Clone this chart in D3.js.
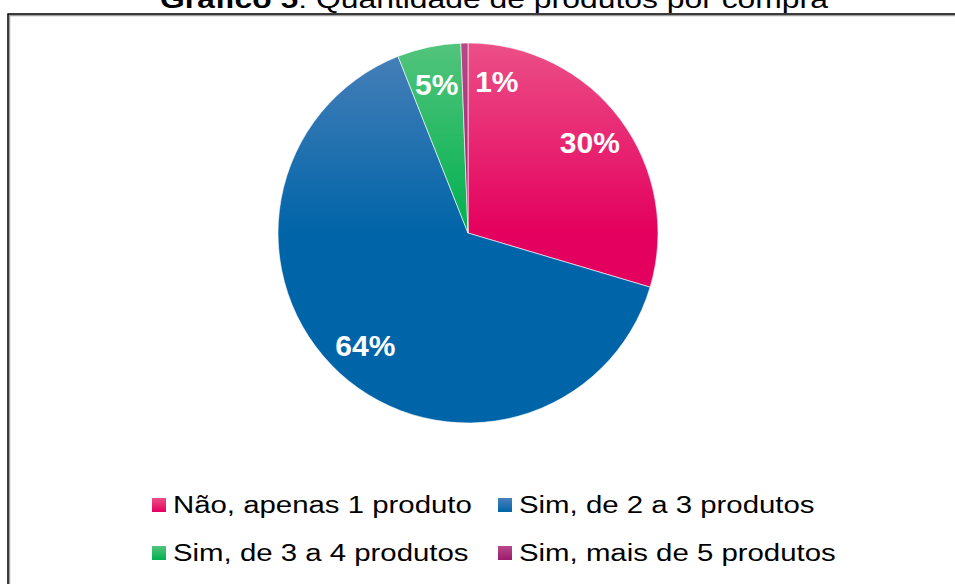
<!DOCTYPE html>
<html>
<head>
<meta charset="utf-8">
<script src="https://cdn.jsdelivr.net/npm/d3@7"></script>
<style>
  body { margin: 0; background: #fff; }
  svg { display: block; font-family: "Liberation Sans", Arial, sans-serif; }
</style>
</head>
<body>
<div class="main"></div>
<script>
// Données du graphique
const categories = ['Não, apenas 1 produto', 'Sim, de 2 a 3 produtos', 'Sim, de 3 a 4 produtos', 'Sim, mais de 5 produtos'];
const valeurs = [29.6, 64.4, 5.4, 0.6];
const etiquettes = ['30%', '64%', '5%', '1%'];
const couleurs = ['#e4005e', '#0065a8', '#00b04f', '#9e1a6c'];
const couleursClaires = ['#ec4f87', '#4a80b9', '#52c47c', '#b8488a'];

const width = 955;
const height = 584;
const cx = 468, cy = 233, rayon = 190;
const etirement = 1.25; // texte étiré horizontalement dans l'original

const data = categories.map((c, i) => ({ categorie: c, valeur: valeurs[i], etiquette: etiquettes[i], i }));

const svg = d3.select('.main')
  .append('svg')
  .attr('width', width)
  .attr('height', height);

// Dégradés (haut plus clair), en coordonnées locales du groupe
const defs = svg.append('defs');
data.forEach(d => {
  const g = defs.append('linearGradient')
    .attr('id', 'grad' + d.i)
    .attr('gradientUnits', 'userSpaceOnUse')
    .attr('x1', 0).attr('y1', -rayon)
    .attr('x2', 0).attr('y2', rayon);
  g.append('stop').attr('offset', '0%').attr('stop-color', couleursClaires[d.i]);
  g.append('stop').attr('offset', '50%').attr('stop-color', couleurs[d.i]);
  g.append('stop').attr('offset', '100%').attr('stop-color', couleurs[d.i]);

  const lg = defs.append('linearGradient')
    .attr('id', 'leg' + d.i)
    .attr('x1', 0).attr('y1', 0).attr('x2', 0).attr('y2', 1);
  lg.append('stop').attr('offset', '0%').attr('stop-color', couleursClaires[d.i]);
  lg.append('stop').attr('offset', '100%').attr('stop-color', couleurs[d.i]);
});

// Cadre
svg.append('rect')
  .attr('x', 9.5).attr('y', 15.5)
  .attr('width', width + 20).attr('height', height + 20)
  .attr('fill', 'none')
  .attr('stroke', '#a0a0a0')
  .attr('stroke-width', 1.5);
svg.append('rect')
  .attr('x', 8).attr('y', 14)
  .attr('width', width + 20).attr('height', height + 20)
  .attr('fill', 'none')
  .attr('stroke', '#000')
  .attr('stroke-width', 1.5);

// Titre
const titre = svg.append('text')
  .attr('transform', `translate(494,7.5) scale(${etirement},1)`)
  .attr('text-anchor', 'middle')
  .style('font-size', '25.5px')
  .style('fill', '#000');
titre.append('tspan').style('font-weight', 'bold').text('Gráfico 5');
titre.append('tspan').text(': Quantidade de produtos por compra');

// Camembert
const pie = d3.pie().sort(null).value(d => d.valeur);
const arc = d3.arc().innerRadius(0).outerRadius(rayon);
const arcLabel = d3.arc().innerRadius(rayon * 0.8).outerRadius(rayon * 0.8);
const arcs = pie(data);

const g = svg.append('g').attr('transform', `translate(${cx},${cy})`);

g.selectAll('path')
  .data(arcs)
  .enter()
  .append('path')
  .attr('d', arc)
  .attr('fill', d => `url(#grad${d.data.i})`)
  .attr('stroke', '#fff')
  .attr('stroke-width', 0.6);

g.selectAll('text')
  .data(arcs)
  .enter()
  .append('text')
  .attr('x', d => arcLabel.centroid(d)[0])
  .attr('y', d => arcLabel.centroid(d)[1])
  .attr('dy', '0.36em')
  .attr('dx', d => d.data.valeur < 2 ? 10 : 0)
  .attr('text-anchor', d => d.data.valeur < 2 ? 'start' : 'middle')
  .style('font-size', '30px')
  .style('font-weight', 'bold')
  .style('fill', '#fff')
  .text(d => d.data.etiquette);

// Légende
const legendX = d3.scaleOrdinal().domain([0, 1]).range([152, 498]);
const legendY = d3.scaleOrdinal().domain([0, 1]).range([505, 553]);

const leg = svg.append('g')
  .selectAll('g')
  .data(data)
  .enter()
  .append('g')
  .attr('transform', d => `translate(${legendX(d.i % 2)},${legendY(Math.floor(d.i / 2))})`);

leg.append('rect')
  .attr('x', 0).attr('y', -7)
  .attr('width', 14).attr('height', 14)
  .attr('fill', d => `url(#leg${d.i})`);

leg.append('text')
  .attr('transform', `translate(21,0) scale(${etirement},1)`)
  .attr('dy', '0.35em')
  .style('font-size', '23.5px')
  .style('fill', '#000')
  .text(d => d.categorie);
</script>
</body>
</html>
